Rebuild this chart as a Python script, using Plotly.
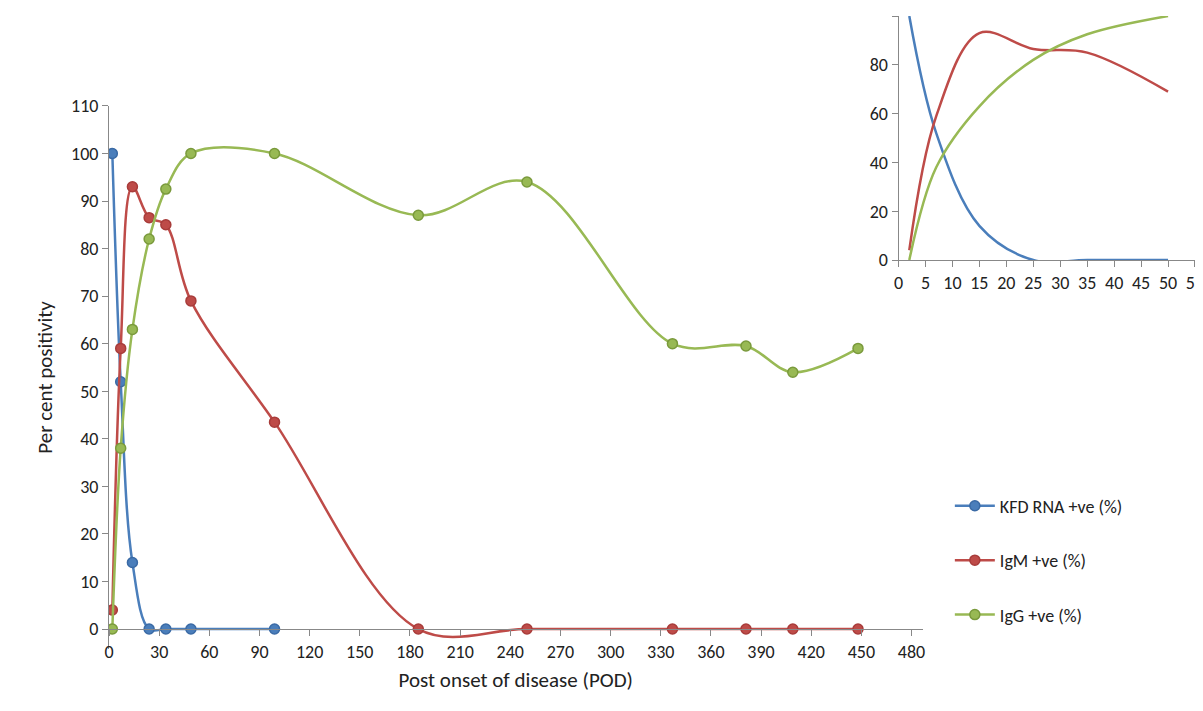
import plotly.graph_objects as go

days = [2, 7, 14, 24, 34, 49, 99, 185, 250, 337, 381, 409, 448]
kfd_days = [2, 7, 14, 24, 34, 49, 99]
kfd = [100, 52, 14, 0, 0, 0, 0]
igm = [4, 59, 93, 86.5, 85, 69, 43.5, 0, 0, 0, 0, 0, 0]
igg = [0, 38, 63, 82, 92.5, 100, 100, 87, 94, 60, 59.5, 54, 59]

ins_days = [2, 7, 15, 25, 35, 50]
ins_kfd = [100, 52, 14, 0, 0, 0]
ins_igm = [4, 59, 93, 86.5, 85, 69]
ins_igg = [0, 38, 63, 82, 92.5, 100]

names = ["KFD RNA +ve (%)", "IgM +ve (%)", "IgG +ve (%)"]
colors = ["#4a7ebb", "#be4b48", "#98b954"]
edges = ["#3a6aa5", "#a83c3a", "#7a9a3c"]

fig = go.Figure()
for i, (x, y, n, c, e) in enumerate(zip([kfd_days, days, days], [kfd, igm, igg], names, colors, edges)):
    fig.add_trace(go.Scatter(x=x, y=y, name=n, mode="lines+markers", legendgroup=str(i),
                             line=dict(color=c, width=2.5, shape="spline", smoothing=1),
                             marker=dict(size=10, color=c, line=dict(color=e, width=1.5))))
for y, c in zip([ins_kfd, ins_igm, ins_igg], colors):
    fig.add_trace(go.Scatter(x=ins_days, y=y, mode="lines", showlegend=False,
                             line=dict(color=c, width=2.5, shape="spline", smoothing=1),
                             xaxis="x2", yaxis="y2"))

font = dict(family="Carlito, Liberation Sans, Arial", size=18, color="#222")
ax = dict(showgrid=False, zeroline=False, showline=True, linecolor="#888", linewidth=1,
          ticks="outside", tickcolor="#888", ticklen=6, tickfont=font, automargin=False)
fig.update_layout(
    width=1203, height=711, plot_bgcolor="white", paper_bgcolor="white",
    margin=dict(l=101, r=10, t=8, b=70),
    font=font,
    xaxis=dict(ax, domain=[0, 0.745], range=[0, 486.6], tick0=0, dtick=30,
               anchor="free", position=0.0316,
               title=dict(text="Post onset of disease (POD)", font=dict(size=21), standoff=10)),
    yaxis=dict(ax, domain=[0, 0.858], range=[-4.2, 110], tickvals=list(range(0, 111, 10)),
               title=dict(text="Per cent positivity", font=dict(size=21), standoff=12)),
    xaxis2=dict(ax, domain=[0.723, 0.9945], range=[0, 55], dtick=5, anchor="y2"),
    yaxis2=dict(ax, domain=[0.6145, 1.0], range=[0, 100], dtick=20, anchor="x2"),
    legend=dict(x=0.77, y=0.255, xanchor="left", yanchor="top", font=font,
                tracegroupgap=28, itemwidth=40),
)
fig.write_html("out.html")
